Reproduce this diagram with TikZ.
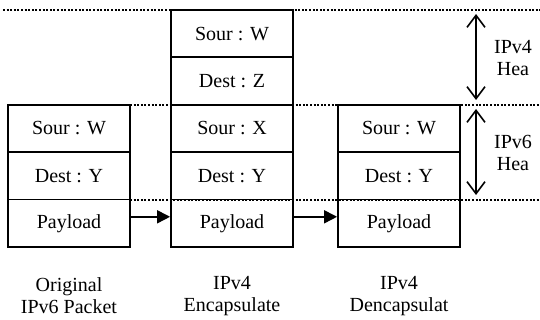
\documentclass[tikz,border=0pt]{standalone}
\usepackage{fontspec}
\setmainfont{Liberation Serif}
\usetikzlibrary{arrows.meta}
\begin{document}
\begin{tikzpicture}[x=1pt,y=-1pt,
 cell/.style={draw, line width=1.8pt, minimum width=122pt, minimum height=47.4pt, inner sep=0pt, font=\fontsize{20}{24}\selectfont},
 guide/.style={line width=2pt, dash pattern=on 2pt off 1.6pt},
 flow/.style={line width=1.6pt, -{Triangle[length=13pt,width=13pt]}},
 span/.style={line width=1.6pt, {Straight Barb[length=12pt,width=18pt,line width=1.6pt]}-{Straight Barb[length=12pt,width=18pt,line width=1.6pt]}},
 lbl/.style={align=center, font=\fontsize{20}{22}\selectfont}]
\useasboundingbox (0,0) rectangle (540,320);
% guide lines
\coordinate (g1s) at (3,10);    \coordinate (g1e) at (540,10);
\coordinate (g2s) at (130,104.8); \coordinate (g2e) at (540,104.8);
\coordinate (g3s) at (130,199.6); \coordinate (g3e) at (540,199.6);
\draw[guide] (g1s) -- (g1e);
\draw[guide] (g2s) -- (g2e);
\draw[guide] (g3s) -- (g3e);
% original packet
\node[cell] (a1) at (69,128.5) {Sour : W};
\node[cell] (a2) at (69,175.9) {Dest : Y};
\node[cell] (a3) at (69,223.3) {Payload};
% encapsulated
\node[cell] (b1) at (232,33.7) {Sour : W};
\node[cell] (b2) at (232,81.1) {Dest : Z};
\node[cell] (b3) at (232,128.5) {Sour : X};
\node[cell] (b4) at (232,175.9) {Dest : Y};
\node[cell] (b5) at (232,223.3) {Payload};
% decapsulated
\node[cell] (c1) at (399,128.5) {Sour : W};
\node[cell] (c2) at (399,175.9) {Dest : Y};
\node[cell] (c3) at (399,223.3) {Payload};
% flow arrows
\draw[flow] ([yshift=6.5pt]a3.east) -- ([yshift=6.5pt]b5.west);
\draw[flow] ([yshift=6.5pt]b5.east) -- ([yshift=6.5pt]c3.west);
% spans
\coordinate (s1t) at (476,14); \coordinate (s1b) at (476,100);
\coordinate (s2t) at (476,109); \coordinate (s2b) at (476,195);
\draw[span] (s1t) -- (s1b);
\draw[span] (s2t) -- (s2b);
\node[lbl] (l4) at (513,58) {IPv4\\Hea};
\node[lbl] (l6) at (513,153) {IPv6\\Hea};
% captions
\node[lbl] (ca) at (69,296) {Original\\IPv6 Packet};
\node[lbl] (cb) at (232,296) {IPv4\\Encapsulate};
\node[lbl] (cc) at (399,296) {IPv4\\Dencapsulat};
\end{tikzpicture}
\end{document}
